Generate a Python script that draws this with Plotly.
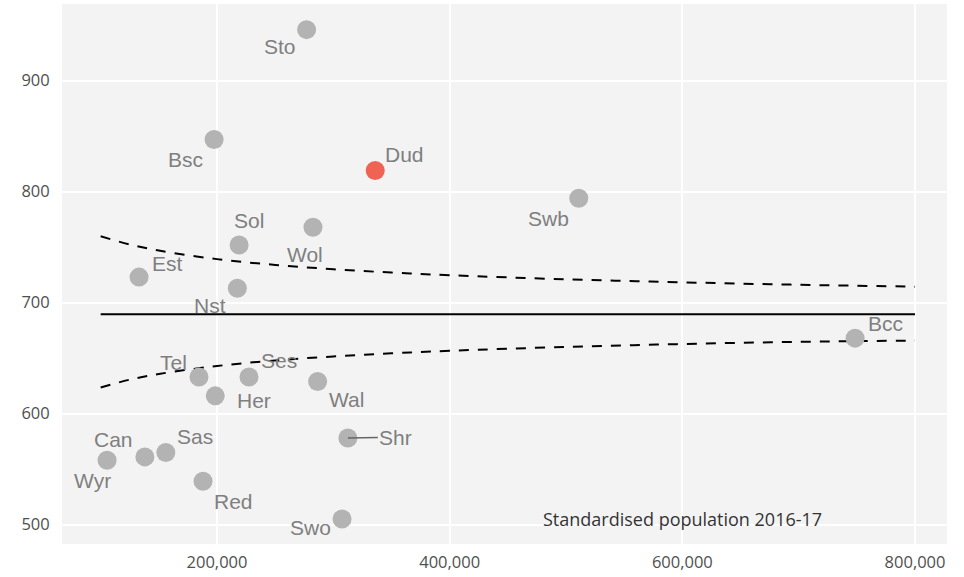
import plotly.graph_objects as go

# Authorities: standardised population vs rate
codes = ["Sto", "Bsc", "Dud", "Swb", "Sol", "Wol", "Est", "Nst", "Bcc", "Tel",
         "Ses", "Her", "Wal", "Shr", "Can", "Sas", "Wyr", "Red", "Swo"]
population = [277000, 197500, 336000, 511000, 219000, 282500, 133000, 217500, 748500, 184500,
              227500, 198500, 286500, 312500, 138000, 156000, 105500, 188000, 307500]
rate = [946, 847, 819, 794, 752, 768, 723, 713, 668, 633,
        633, 616, 629, 578, 561, 565, 558, 539, 505]
highlight = "Dud"

# Funnel limits
limit_pop = [100000, 125000, 150000, 200000, 250000, 300000, 350000, 400000,
             500000, 600000, 700000, 800000]
upper_limit = [759.8, 752.4, 746.9, 739.2, 734.0, 730.1, 727.1, 724.7,
               721.0, 718.3, 716.1, 714.4]
lower_limit = [623.5, 630.6, 635.7, 642.9, 647.9, 651.5, 654.3, 656.6,
               660.1, 662.7, 664.7, 665.8]
centre_rate = 689.6

x_ticks = [200000, 400000, 600000, 800000]
y_ticks = [500, 600, 700, 800, 900]

# label offsets in pixels (dx right, dy down)
label_offsets = {
    "Sto": (-27, 17), "Bsc": (-29, 20), "Dud": (29, -16), "Swb": (-30, 20),
    "Sol": (10, -24), "Wol": (-8, 27), "Est": (28, -14), "Nst": (-27, 17),
    "Bcc": (30, -15), "Tel": (-25, -14), "Ses": (30, -16), "Her": (39, 5),
    "Wal": (29, 18), "Can": (-31, -17), "Sas": (29, -16), "Wyr": (-15, 20),
    "Red": (30, 20), "Swo": (-32, 8),
}
connector_labels = {"Shr": (48, -1)}

fig = go.Figure()

dash_style = "10px,9px"
fig.add_trace(go.Scatter(x=[limit_pop[0], limit_pop[-1]], y=[centre_rate, centre_rate],
                         mode="lines", line=dict(color="black", width=2),
                         hoverinfo="skip", showlegend=False))
fig.add_trace(go.Scatter(x=limit_pop, y=upper_limit, mode="lines", line_shape="spline",
                         line=dict(color="black", width=2, dash=dash_style),
                         hoverinfo="skip", showlegend=False))
fig.add_trace(go.Scatter(x=limit_pop, y=lower_limit, mode="lines", line_shape="spline",
                         line=dict(color="black", width=2, dash=dash_style),
                         hoverinfo="skip", showlegend=False))

colors = ["#ef6355" if c == highlight else "#b3b3b3" for c in codes]
fig.add_trace(go.Scatter(x=population, y=rate, mode="markers", text=codes,
                         marker=dict(size=19, color=colors, line=dict(width=0)),
                         showlegend=False))

label_font = dict(family="Liberation Sans, Arial, sans-serif", size=21, color="#7f7f7f")
for c, px, r in zip(codes, population, rate):
    if c in connector_labels:
        ax, ay = connector_labels[c]
        fig.add_annotation(x=px, y=r, text=c, showarrow=True, arrowhead=0,
                           arrowwidth=1.5, arrowcolor="#666666", standoff=0,
                           ax=ax, ay=ay, font=label_font)
    else:
        dx, dy = label_offsets[c]
        fig.add_annotation(x=px, y=r, text=c, showarrow=False,
                           xshift=dx, yshift=-dy, font=label_font)

fig.add_annotation(x=600000, y=505, text="Standardised population 2016-17",
                   showarrow=False,
                   font=dict(family="Open Sans, sans-serif", size=18, color="#333333"))

tick_font = dict(family="Open Sans, sans-serif", size=16.5, color="#4f4f4f")
fig.update_layout(
    width=964, height=577,
    margin=dict(l=62, r=17, t=4, b=29),
    paper_bgcolor="white",
    plot_bgcolor="#f3f3f3",
    showlegend=False,
)
fig.update_xaxes(range=[66760, 827500], tickvals=x_ticks,
                 ticktext=[f"{v:,}" for v in x_ticks],
                 showgrid=True, gridcolor="white", gridwidth=2, zeroline=False,
                 showline=False, ticks="outside", ticklen=3,
                 tickcolor="rgba(0,0,0,0)", tickfont=tick_font)
fig.update_yaxes(range=[482.5, 969.1], tickvals=y_ticks,
                 showgrid=True, gridcolor="white", gridwidth=2, zeroline=False,
                 showline=False, ticks="outside", ticklen=8,
                 tickcolor="rgba(0,0,0,0)", tickfont=tick_font)

fig.write_html("out.html")
